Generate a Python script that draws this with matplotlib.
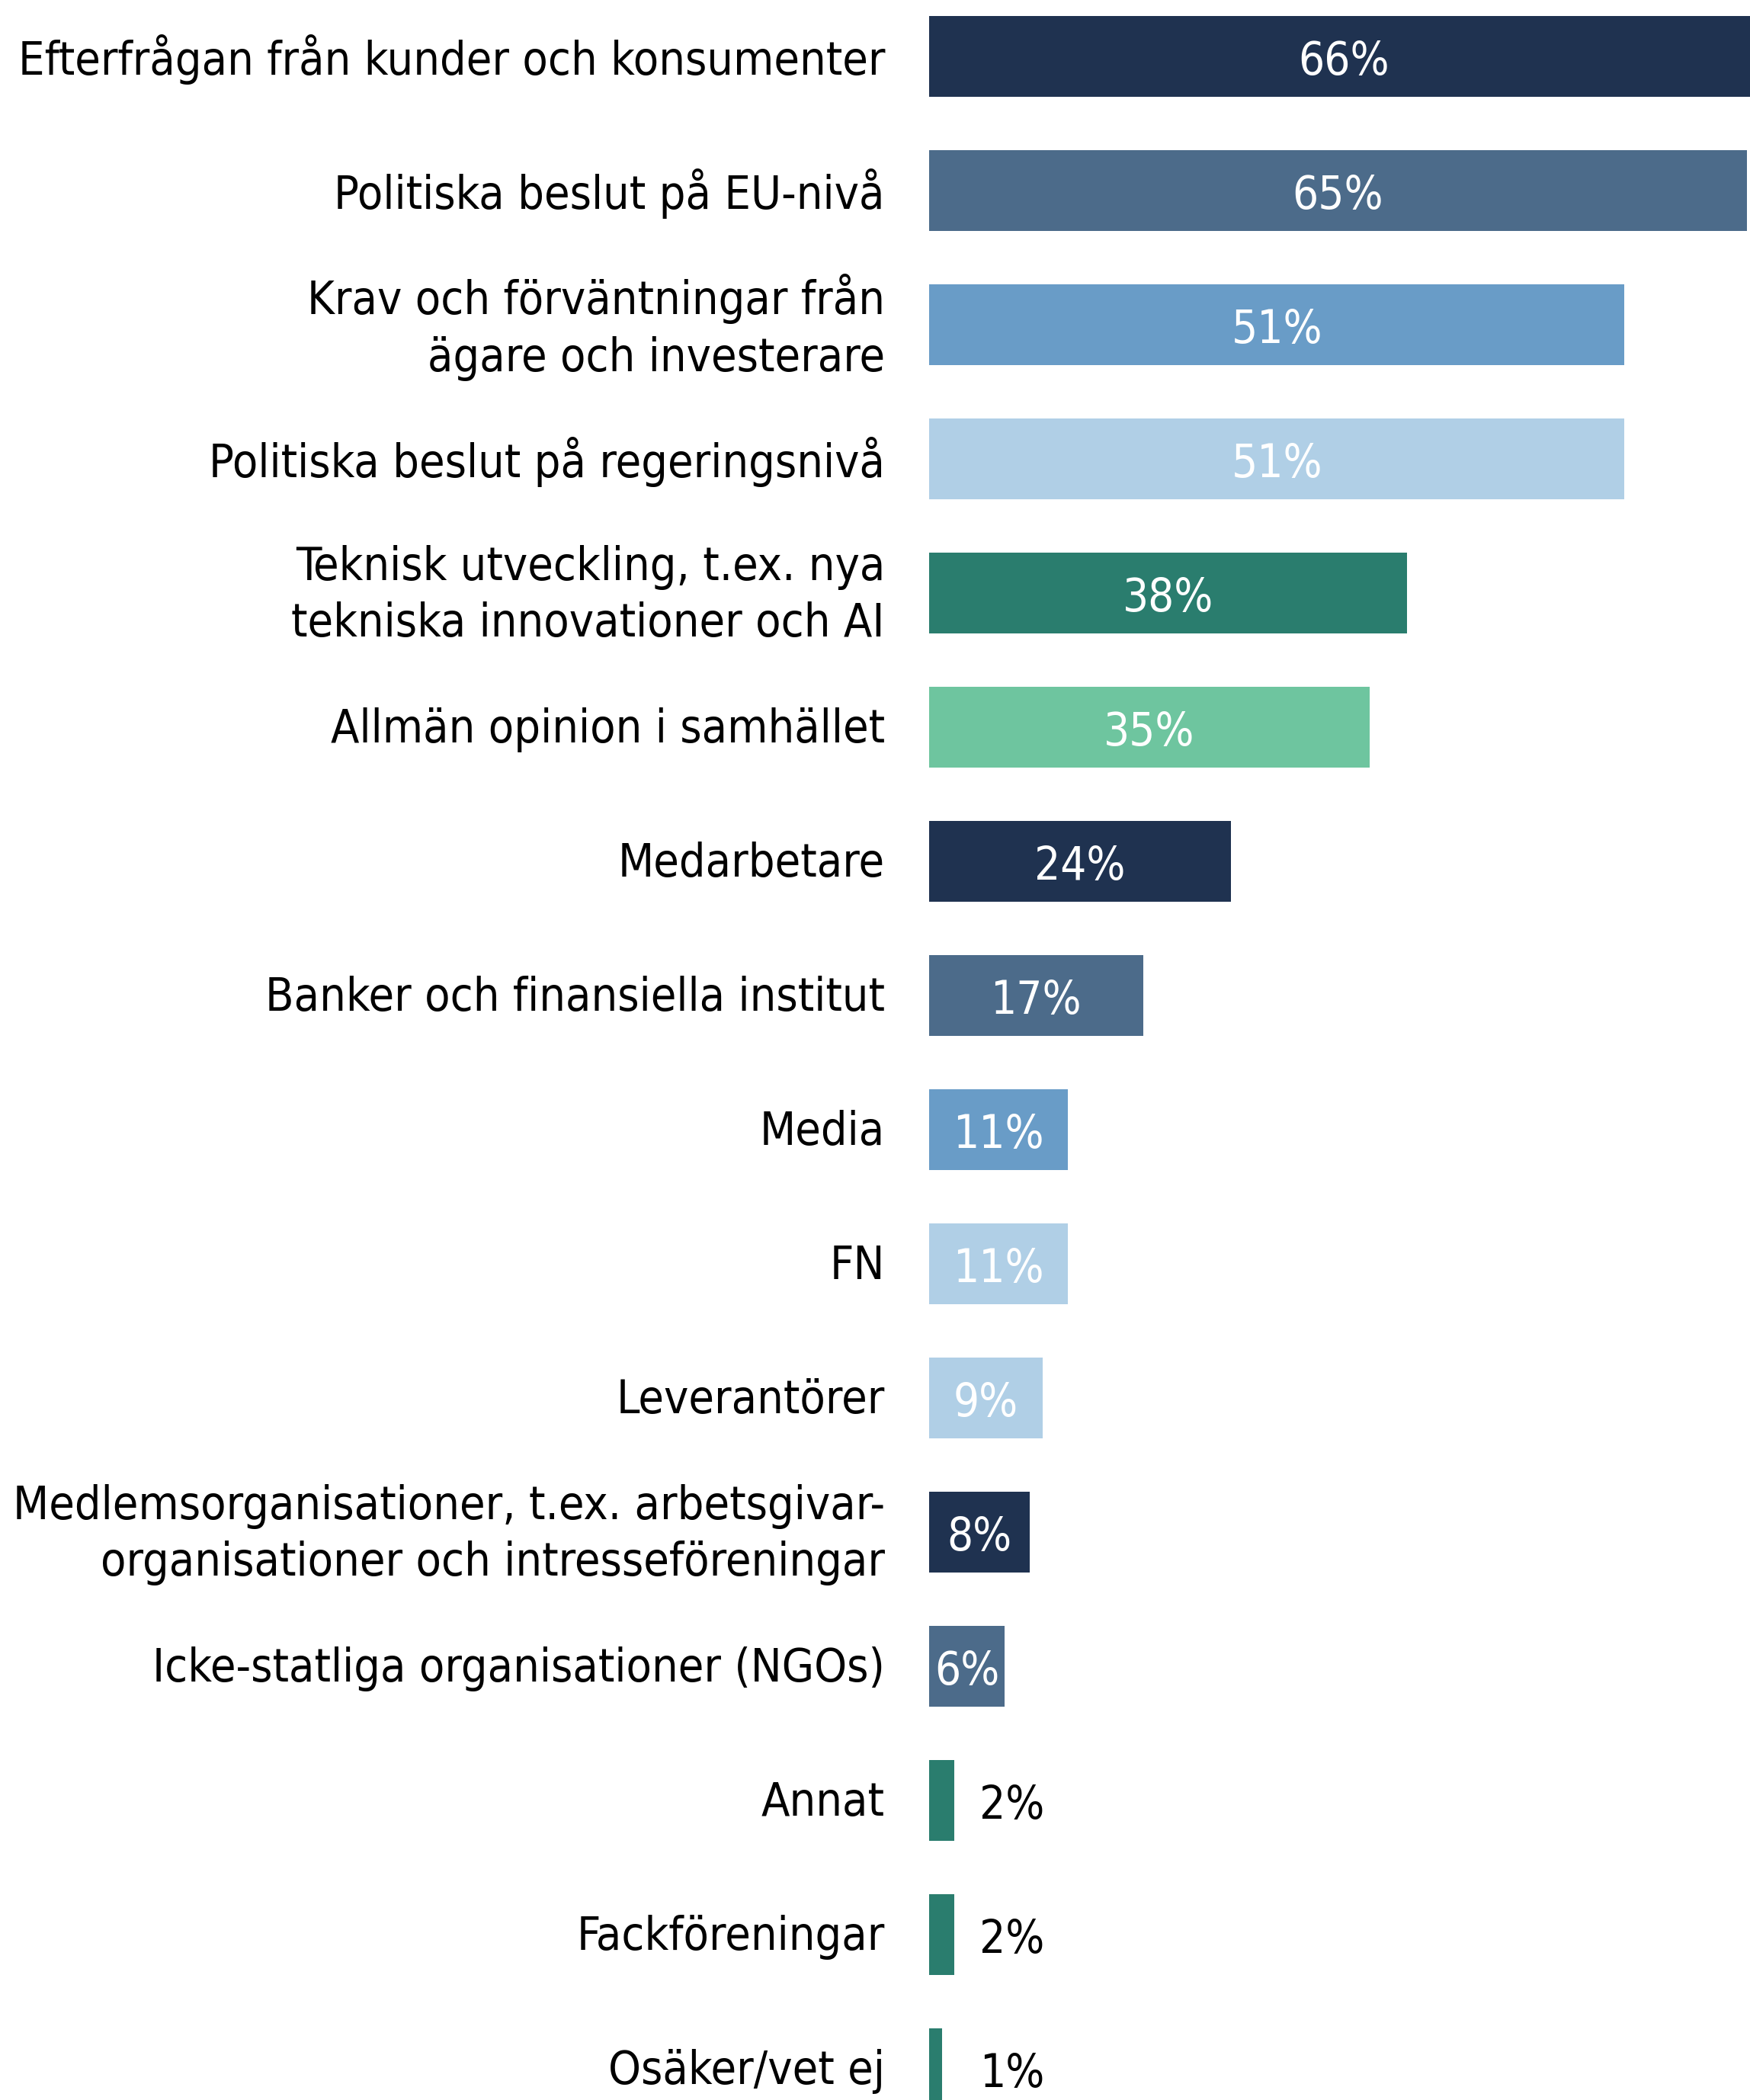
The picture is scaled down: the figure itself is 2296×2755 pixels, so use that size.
import numpy as np
import matplotlib.pyplot as plt

# data
categories = [
    "Efterfrågan från kunder och konsumenter",
    "Politiska beslut på EU-nivå",
    "Krav och förväntningar från\nägare och investerare",
    "Politiska beslut på regeringsnivå",
    "Teknisk utveckling, t.ex. nya\ntekniska innovationer och AI",
    "Allmän opinion i samhället",
    "Medarbetare",
    "Banker och finansiella institut",
    "Media",
    "FN",
    "Leverantörer",
    "Medlemsorganisationer, t.ex. arbetsgivar-\norganisationer och intresseföreningar",
    "Icke-statliga organisationer (NGOs)",
    "Annat",
    "Fackföreningar",
    "Osäker/vet ej",
]
values = [66, 65, 51, 51, 38, 35, 24, 17, 11, 11, 9, 8, 6, 2, 2, 1]
# bar lengths as drawn in the picture (the two 51% bars are drawn longer)
bar_lengths = [66, 65, 55.3, 55.3, 38, 35, 24, 17, 11, 11, 9, 8, 6, 2, 2, 1]

navy = "#1F3250"
slate = "#4C6B8A"
midblue = "#699CC7"
lightblue = "#B0CFE6"
teal = "#2A7D6E"
mint = "#6EC59F"
colors = [navy, slate, midblue, lightblue, teal, mint, navy, slate,
          midblue, lightblue, lightblue, navy, slate, teal, teal, teal]

FONT = dict(family="DejaVu Sans", fontstretch="condensed")

W, H = 2296, 2755
fig = plt.figure(figsize=(W / 100, H / 100), dpi=100)
x0 = 1219
px_per_pct = 16.5
ax = fig.add_axes([x0 / W, 0, 1 - x0 / W, 1])
ax.set_xlim(0, (W - x0) / px_per_pct)
ax.set_ylim((H - 74) / 176, -74 / 176)
ax.axis("off")

y = np.arange(len(categories))
ax.barh(y, bar_lengths, height=0.597, color=colors)

for i, (cat, v, L) in enumerate(zip(categories, values, bar_lengths)):
    ax.text(-58 / px_per_pct, i + 0.02, cat, ha="right", va="center",
            fontsize=43.8, color="black", linespacing=1.33, **FONT)
    if v >= 5:
        ax.text(L / 2, i + 0.04, f"{v}%", ha="center", va="center",
                fontsize=43, color="white", **FONT)
    else:
        ax.text(4, i + 0.04, f"{v}%", ha="left", va="center",
                fontsize=43, color="black", **FONT)

fig.savefig("out.png", dpi=100)
